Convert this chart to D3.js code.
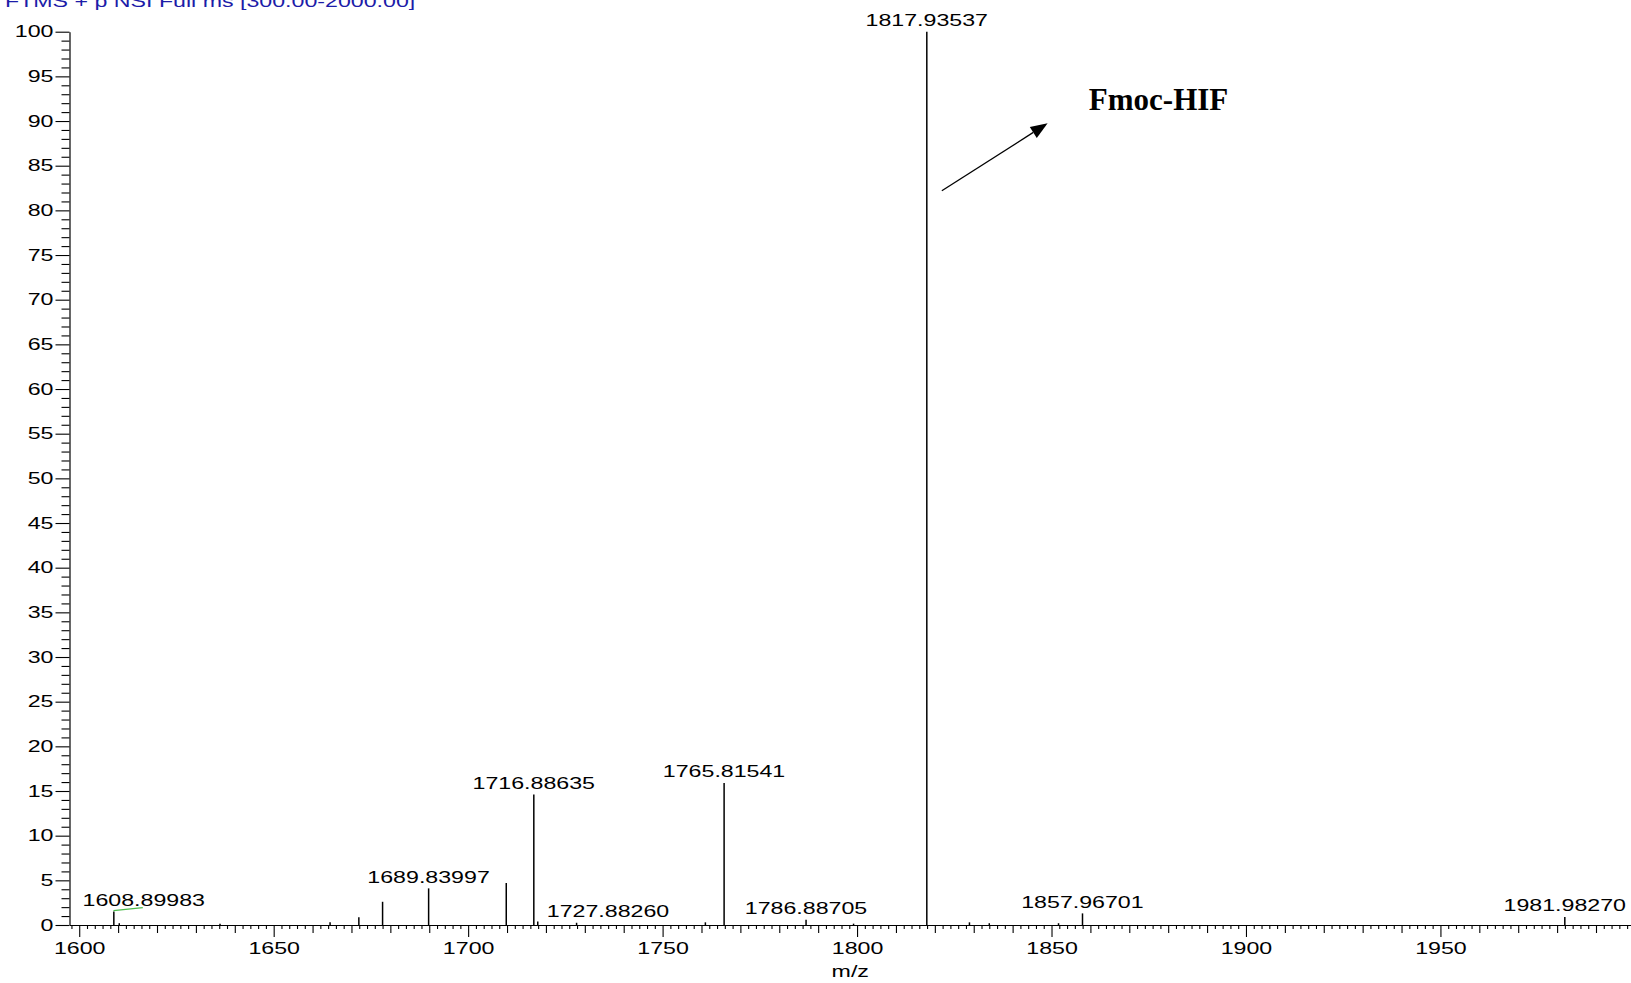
<!DOCTYPE html>
<html>
<head>
<meta charset="utf-8">
<script src="https://cdn.jsdelivr.net/npm/d3@7"></script>
<style>
  html, body { margin: 0; padding: 0; background: #fff; }
  svg { display: block; }
</style>
</head>
<body>
<svg id="chart" width="1631" height="983"></svg>
<script>
// ---- spectrum data: labelled centroid peaks (m/z, relative abundance %) ----
const labeledMz = [1608.89983, 1689.83997, 1716.88635, 1727.88260, 1765.81541, 1786.88705, 1817.93537, 1857.96701, 1981.98270];
const labeledIntensity = [1.5, 4.1, 14.6, 0.25, 15.9, 0.6, 100, 1.3, 0.9];

// unlabelled minor peaks
const minorMz = [1610.3, 1636.2, 1664.5, 1671.9, 1678.0, 1709.8, 1717.9, 1761.0, 1799.1, 1828.9, 1834.0, 1851.8];
const minorIntensity = [0.2, 0.15, 0.3, 0.86, 2.6, 4.7, 0.4, 0.3, 0.15, 0.3, 0.2, 0.2];

// axis ticks
const xMajorTicks = [1600, 1650, 1700, 1750, 1800, 1850, 1900, 1950];
const xMidTicks = d3.range(1600, 2000, 10);
const xMinorTicks = d3.range(1598, 2000, 2);
const yMajorTicks = d3.range(0, 101, 5);
const yMinorTicks = d3.range(0, 101, 1);

// texts
const headerText = "FTMS + p NSI Full ms [300.00-2000.00]";
const xTitle = "m/z";
const annotationText = "Fmoc-HIF";

// annotation anchors in data space (m/z, %)
const arrowFrom = [1821.8, 82.2];
const arrowTo = [1849.0, 89.75];
const annotationAt = [1859.6, 91.2];

// short green profile trace next to the first peak
const traceMz = [1608.8, 1616.35];
const traceIntensity = [1.6, 1.94];

// ---- layout ----
const W = 1631, H = 983;
const SX = 1.45;              // horizontal stretch of the instrument font
const FONT = "'Liberation Sans', Arial, sans-serif";
const FS = 16;

const svg = d3.select("#chart");
svg.append("rect").attr("width", W).attr("height", H).attr("fill", "#fff");

const x = d3.scaleLinear().domain([1597.5, 1999.0]).range([69.5, 1631]);
const y = d3.scaleLinear().domain([0, 100]).range([925, 31.7]);

function styleAxis(g) {
  g.attr("font-family", FONT).attr("font-size", FS);
  g.selectAll("line").attr("stroke", "#000").attr("stroke-width", 1.1);
  g.selectAll("path.domain").attr("stroke", "#000").attr("stroke-width", 1.2);
}

// x axis: minor, mid, major ticks
const xMinorG = svg.append("g").attr("transform", `translate(0,${y(0)})`)
  .call(d3.axisBottom(x).tickValues(xMinorTicks.filter(v => v % 10 !== 0)).tickSize(4).tickFormat(""));
xMinorG.select(".domain").remove();
styleAxis(xMinorG);

const xMidG = svg.append("g").attr("transform", `translate(0,${y(0)})`)
  .call(d3.axisBottom(x).tickValues(xMidTicks.filter(v => v % 50 !== 0)).tickSize(8).tickFormat(""));
xMidG.select(".domain").remove();
styleAxis(xMidG);

const xMajorG = svg.append("g").attr("transform", `translate(0,${y(0)})`)
  .call(d3.axisBottom(x).tickValues(xMajorTicks).tickSize(12).tickSizeOuter(0).tickPadding(6).tickFormat(d3.format("d")));
styleAxis(xMajorG);
xMajorG.selectAll("text").attr("fill", "#000").attr("transform", `scale(${SX},1)`);

// y axis: minor and major ticks
const yMinorG = svg.append("g").attr("transform", `translate(${x.range()[0]},0)`)
  .call(d3.axisLeft(y).tickValues(yMinorTicks.filter(v => v % 5 !== 0)).tickSize(8).tickFormat(""));
yMinorG.select(".domain").remove();
styleAxis(yMinorG);

const yMajorG = svg.append("g").attr("transform", `translate(${x.range()[0]},0)`)
  .call(d3.axisLeft(y).tickValues(yMajorTicks).tickSize(14).tickSizeOuter(0).tickPadding(2).tickFormat(d3.format("d")));
styleAxis(yMajorG);
yMajorG.selectAll("text").attr("fill", "#000")
  .attr("x", -16 / SX)
  .attr("transform", `scale(${SX},1)`);

// ---- peaks ----
const peaks = labeledMz.map((mz, i) => ({ mz, h: labeledIntensity[i], labeled: true }))
  .concat(minorMz.map((mz, i) => ({ mz, h: minorIntensity[i], labeled: false })));

svg.append("g").selectAll("line").data(peaks).join("line")
  .attr("x1", d => x(d.mz)).attr("x2", d => x(d.mz))
  .attr("y1", y(0)).attr("y2", d => y(d.h))
  .attr("stroke", "#000").attr("stroke-width", 1.5);

// green profile trace
svg.append("path")
  .datum(traceMz.map((m, i) => [m, traceIntensity[i]]))
  .attr("d", d3.line().x(d => x(d[0])).y(d => y(d[1])))
  .attr("fill", "none").attr("stroke", "#4cbb4c").attr("stroke-width", 1.3);

// peak labels, nudged right of any taller stick (or the y axis) they would cross
const labelG = svg.append("g").attr("font-family", FONT).attr("font-size", FS).attr("fill", "#000");
peaks.filter(d => d.labeled).forEach(d => {
  const t = labelG.append("text").text(d.mz.toFixed(5)).attr("text-anchor", "start");
  const w = t.node().getComputedTextLength() * SX;
  const baseline = y(d.h) - 5.5;
  let left = x(d.mz) - w / 2;
  const obstacles = [x.range()[0]].concat(
    peaks.filter(p => p !== d && y(p.h) < baseline).map(p => x(p.mz))
  ).sort((a, b) => a - b);
  obstacles.forEach(o => {
    if (o > left - 1 && o < left + w + 1) left = o + 13;
  });
  t.attr("transform", `translate(${left},${baseline}) scale(${SX},1)`);
});

// header
svg.append("text")
  .attr("transform", `translate(5,7) scale(${SX},1)`)
  .attr("font-family", FONT).attr("font-size", FS).attr("fill", "#1c1ca8")
  .text(headerText);

// x axis title
svg.append("text")
  .attr("transform", `translate(${(x.range()[0] + x.range()[1]) / 2},977) scale(${SX},1)`)
  .attr("text-anchor", "middle")
  .attr("font-family", FONT).attr("font-size", FS).attr("fill", "#000")
  .text(xTitle);

// annotation arrow
const ax1 = x(arrowFrom[0]), ay1 = y(arrowFrom[1]);
const ax2 = x(arrowTo[0]), ay2 = y(arrowTo[1]);
const ang = Math.atan2(ay2 - ay1, ax2 - ax1);
const headLen = 17, headHalf = 6.5;
const bx = ax2 - headLen * Math.cos(ang), by = ay2 - headLen * Math.sin(ang);
svg.append("line")
  .attr("x1", ax1).attr("y1", ay1).attr("x2", bx).attr("y2", by)
  .attr("stroke", "#000").attr("stroke-width", 1.3);
svg.append("path")
  .attr("d", d3.line()([
    [ax2, ay2],
    [bx + headHalf * Math.sin(ang), by - headHalf * Math.cos(ang)],
    [bx - headHalf * Math.sin(ang), by + headHalf * Math.cos(ang)]
  ]) + "Z")
  .attr("fill", "#000");

svg.append("text")
  .attr("x", x(annotationAt[0])).attr("y", y(annotationAt[1]))
  .attr("font-family", "'Liberation Serif', 'Times New Roman', serif")
  .attr("font-weight", "bold").attr("font-size", 31).attr("fill", "#000")
  .text(annotationText);
</script>
</body>
</html>
